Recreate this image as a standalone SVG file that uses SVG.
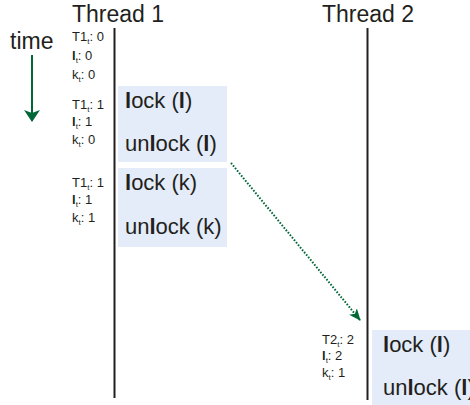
<svg xmlns="http://www.w3.org/2000/svg" width="470" height="405" viewBox="0 0 470 405">
  <style>
    text { font-family: "Liberation Sans", Arial, sans-serif; fill: #231f20; }
    .head { font-size: 23px; }
    .op { font-size: 22px; }
    .st { font-size: 13px; }
    .sub { font-size: 8px; }
    .b { font-weight: bold; }
    .box { fill: #e3ecf8; }
    .life { stroke: #231f20; stroke-width: 2; fill: none; }
  </style>
  <defs>
    <marker id="ah" viewBox="0 0 12 10" refX="11" refY="5" markerWidth="12" markerHeight="10" markerUnits="userSpaceOnUse" orient="auto">
      <path d="M0,0 L12,5 L0,10 L3,5 Z" fill="#006837"/>
    </marker>
    <marker id="ahTime" viewBox="0 0 12 16" refX="11" refY="8" markerWidth="12" markerHeight="16" markerUnits="userSpaceOnUse" orient="auto">
      <path d="M0,0 L12,8 L0,16 L3,8 Z" fill="#006837"/>
    </marker>
  </defs>

  <!-- time axis -->
  <g id="time">
    <text class="head" x="10" y="49">time</text>
    <line x1="32" y1="55" x2="32" y2="121" stroke="#006837" stroke-width="2" marker-end="url(#ahTime)"/>
  </g>

  <!-- thread 1 lifeline -->
  <g id="thread1">
    <text class="head" x="72" y="22">Thread 1</text>
    <line class="life" x1="114.5" y1="28" x2="114.5" y2="398"/>
  </g>

  <!-- thread 2 lifeline -->
  <g id="thread2">
    <text class="head" x="322" y="22">Thread 2</text>
    <line class="life" x1="367.5" y1="28" x2="367.5" y2="400"/>
  </g>

  <!-- clock states -->
  <g id="state1">
    <text class="st" x="72" y="41">T1<tspan class="sub" dy="3">t</tspan><tspan dy="-3">: 0</tspan></text>
    <text class="st" x="72" y="60"><tspan class="b">l</tspan><tspan class="sub" dy="3">t</tspan><tspan dy="-3">: 0</tspan></text>
    <text class="st" x="72" y="79">k<tspan class="sub" dy="3">t</tspan><tspan dy="-3">: 0</tspan></text>
  </g>
  <g id="state2">
    <text class="st" x="72" y="109">T1<tspan class="sub" dy="3">t</tspan><tspan dy="-3">: 1</tspan></text>
    <text class="st" x="72" y="126"><tspan class="b">l</tspan><tspan class="sub" dy="3">t</tspan><tspan dy="-3">: 1</tspan></text>
    <text class="st" x="72" y="144">k<tspan class="sub" dy="3">t</tspan><tspan dy="-3">: 0</tspan></text>
  </g>
  <g id="state3">
    <text class="st" x="72" y="187">T1<tspan class="sub" dy="3">t</tspan><tspan dy="-3">: 1</tspan></text>
    <text class="st" x="72" y="204"><tspan class="b">l</tspan><tspan class="sub" dy="3">t</tspan><tspan dy="-3">: 1</tspan></text>
    <text class="st" x="72" y="222">k<tspan class="sub" dy="3">t</tspan><tspan dy="-3">: 1</tspan></text>
  </g>
  <g id="state4">
    <text class="st" x="322" y="344">T2<tspan class="sub" dy="3">t</tspan><tspan dy="-3">: 2</tspan></text>
    <text class="st" x="322" y="360"><tspan class="b">l</tspan><tspan class="sub" dy="3">t</tspan><tspan dy="-3">: 2</tspan></text>
    <text class="st" x="322" y="377">k<tspan class="sub" dy="3">t</tspan><tspan dy="-3">: 1</tspan></text>
  </g>

  <!-- critical sections -->
  <g id="cs-l-t1">
    <rect class="box" x="118" y="86" width="109" height="76"/>
    <text class="op" x="125" y="108"><tspan class="b">l</tspan>ock (<tspan class="b">l</tspan>)</text>
    <text class="op" x="125" y="151">un<tspan class="b">l</tspan>ock (<tspan class="b">l</tspan>)</text>
  </g>
  <g id="cs-k-t1">
    <rect class="box" x="118" y="168" width="109" height="79"/>
    <text class="op" x="125" y="190"><tspan class="b">l</tspan>ock (k)</text>
    <text class="op" x="125" y="234">un<tspan class="b">l</tspan>ock (k)</text>
  </g>
  <g id="cs-l-t2">
    <rect class="box" x="372" y="330" width="98" height="75"/>
    <text class="op" x="383" y="352"><tspan class="b">l</tspan>ock (<tspan class="b">l</tspan>)</text>
    <text class="op" x="383" y="395">un<tspan class="b">l</tspan>ock (<tspan class="b">l</tspan>)</text>
  </g>

  <!-- happens-before edge -->
  <g id="connectors">
    <line x1="231" y1="163" x2="360" y2="320" stroke="#006837" stroke-width="2" stroke-dasharray="1.6 1.6" marker-end="url(#ah)"/>
  </g>
</svg>
